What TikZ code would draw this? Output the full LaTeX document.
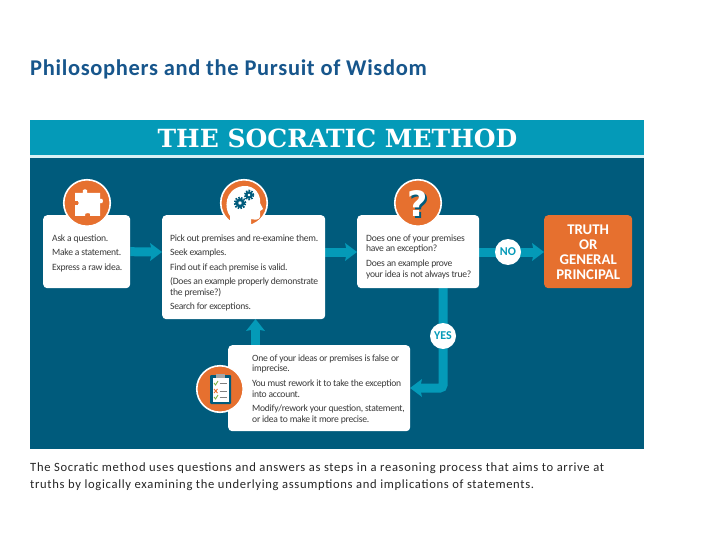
\documentclass[tikz,border=0pt]{standalone}
\usepackage{fontspec}
\setmainfont{Carlito}
\newfontfamily\slabfont{DejaVu Serif}
\newfontfamily\symfont{DejaVu Sans}
\usetikzlibrary{arrows.meta,calc}
\pgfdeclarelayer{backlayer}
\pgfdeclarelayer{flowlayer}
\pgfsetlayers{backlayer,flowlayer,main}
\definecolor{panelc}{HTML}{005B7C}
\definecolor{bandc}{HTML}{049AB8}
\definecolor{orangec}{HTML}{E6702F}
\definecolor{titlec}{HTML}{17568C}
\definecolor{textc}{HTML}{3A3A3A}
\definecolor{greenc}{HTML}{7CB342}
\tikzset{
  x=1pt,y=-1pt,
  card/.style={fill=white,rounded corners=4pt,inner sep=0pt,anchor=north west},
  cardtext/.style={anchor=north west,inner sep=0pt,text=textc,font=\fontsize{9.6}{10.6}\selectfont\addfontfeature{LetterSpace=-2.8},align=left},
  badge/.style={circle,fill=orangec,draw=white,line width=1.6pt,minimum size=46.5pt,inner sep=0pt},
  decision/.style={circle,fill=white,minimum size=26pt,inner sep=0pt,text=bandc,font=\bfseries\fontsize{12}{13}\selectfont},
  flowline/.style={draw=bandc,line width=9pt},
  flowhead/.style={fill=bandc,draw=none},
  gear/.style={draw=panelc,line width=2pt,dash pattern=on 1.6pt off 1.2pt},
}
\begin{document}
\begin{tikzpicture}
\useasboundingbox (0,0) rectangle (720,540);
\begin{pgfonlayer}{backlayer}
\fill[white] (0,0) rectangle (720,540);
\fill[panelc] (30,120) rectangle (644,449);
\fill[bandc] (30,120) rectangle (644,155);
\fill[white!85!bandc] (30,155) rectangle (644,158);
\end{pgfonlayer}
\node[anchor=west,inner sep=0pt,text=titlec,font=\bfseries\fontsize{22.5}{25}\selectfont\addfontfeature{LetterSpace=3}] (title) at (30,69) {Philosophers and the Pursuit of Wisdom};
\node[inner sep=0pt,text=white,font=\slabfont\bfseries\fontsize{25}{27}\selectfont] (head) at (337.5,138.5) {THE SOCRATIC METHOD};
% cards
\node[card,minimum width=87pt,minimum height=73pt] (b1) at (43,215) {};
\node[card,minimum width=163pt,minimum height=104pt] (b2) at (162,215) {};
\node[card,minimum width=122pt,minimum height=73pt] (b3) at (357,215) {};
\node[card,fill=orangec,minimum width=88pt,minimum height=73pt] (b5) at (544,215) {};
\node[card,minimum width=182pt,minimum height=86pt] (b4) at (228,345) {};
\node[inner sep=0pt,align=center,text=white,font=\bfseries\fontsize{14.8}{14.8}\selectfont] (truth) at ($(b5.center)+(0,0.5)$) {TRUTH\\OR\\GENERAL\\PRINCIPAL};
\node[cardtext] (t1) at (52,234.5) {Ask a question.\\[3.9pt]Make a statement.\\[3.9pt]Express a raw idea.};
\node[cardtext] (t2) at (170,234.5) {Pick out premises and re-examine them.\\[3.9pt]Seek examples.\\[3.9pt]Find out if each premise is valid.\\[3.9pt](Does an example properly demonstrate\\the premise?)\\[3.9pt]Search for exceptions.};
\node[cardtext] (t3) at (366,234.5) {Does one of your premises\\have an exception?\\[3.9pt]Does an example prove\\your idea is not always true?};
\node[cardtext] (t4) at (252,354.5) {One of your ideas or premises is false or\\imprecise.\\[3.9pt]You must rework it to take the exception\\into account.\\[3.9pt]Modify/rework your question, statement,\\or idea to make it more precise.};
% decisions
\node[decision] (no) at (508,252) {NO};
\node[decision] (yes) at (443,336) {YES};
\coordinate (b2l) at (162,252);
\coordinate (b2r) at (325,252);
\coordinate (b3l) at (357,252);
\coordinate (b3r) at (479,252);
\coordinate (b3b) at (443,288);
\coordinate (b4t) at (255.5,345);
\coordinate (b2b) at (255.5,319);
\coordinate (b4r) at (410,388);
\coordinate (elbow) at (443,388);
\coordinate (b5l) at (544,252);
% connectors
\begin{pgfonlayer}{flowlayer}
\draw[flowline] (b1.east) -- ($(b2l)+(-8,0)$);
\fill[flowhead] (b2l) -- ++(-12,-9) -- ++(2,9) -- ++(-2,9) -- cycle;
\draw[flowline] (b2r) -- ($(b3l)+(-8,0)$);
\fill[flowhead] (b3l) -- ++(-12,-9) -- ++(2,9) -- ++(-2,9) -- cycle;
\draw[flowline] (b3r) -- (no.center);
\draw[flowline] (no.center) -- ($(b5l)+(-8,0)$);
\fill[flowhead] (b5l) -- ++(-12,-9) -- ++(2,9) -- ++(-2,9) -- cycle;
\draw[flowline,rounded corners=3pt] (b3b) -- (yes.center) -- (elbow) -- ($(b4r)+(8,0)$);
\fill[flowhead] (b4r) -- ++(12,-9) -- ++(-2,9) -- ++(2,9) -- cycle;
\draw[flowline] (b4t) -- ($(b2b)+(0,8)$);
\fill[flowhead] (b2b) -- ++(-9.5,12) -- ++(9.5,-2) -- ++(9.5,2) -- cycle;
\end{pgfonlayer}
% badge 1: puzzle
\node[badge] (c1) at (87,203) {};
\fill[white] (75,193) -- (83,193) .. controls (80,188) and (90,188) .. (87,193) -- (100,193) -- (100,199)
  .. controls (104,196) and (104,206) .. (100,203) -- (100,216) -- (90,216)
  .. controls (93,212) and (83,212) .. (85,216) -- (75,216) -- (75,205)
  .. controls (80,208) and (80,198) .. (75,201) -- cycle;
% badge 2: head with gears
\node[badge] (c2) at (244,203) {};
\fill[white] (230,226) -- (230,216) .. controls (224,209) and (224,189) .. (243,186)
  .. controls (256,185) and (261,196) .. (260,203) -- (263,209) -- (260,211) -- (260,217)
  .. controls (259,220) and (255,220) .. (251,219) -- (251,226) -- cycle;
\draw[panelc,line width=2.6pt] (240,203) circle (3.2pt);
\draw[gear] (240,203) circle (5.4pt);
\draw[panelc,line width=2.2pt] (249,195) circle (2.6pt);
\draw[gear,line width=1.8pt] (249,195) circle (4.4pt);
% badge 3: question
\node[badge] (c3) at (418,203) {};
\node[inner sep=0pt,text=panelc,font=\symfont\bfseries\fontsize{35}{36}\selectfont] (q0) at (419.2,205.2) {?};
\node[inner sep=0pt,text=white,font=\symfont\bfseries\fontsize{35}{36}\selectfont] (q1) at (418,204) {?};
% badge 4: clipboard
\node[badge] (c4) at (220,389) {};
\fill[panelc,rounded corners=1pt] (210,375) rectangle (231,404);
\fill[white] (212.5,378) rectangle (228.5,401.5);
\fill[gray!70] (216,373.5) rectangle (225,378);
\draw[greenc,line width=.9pt] (214,383) -- (215.5,385) -- (218,381);
\draw[orangec,line width=.9pt] (214,389) -- (217.5,393) (217.5,389) -- (214,393);
\draw[greenc,line width=.9pt] (214,397) -- (215.5,399) -- (218,395);
\draw[gray,line width=.5pt] (219.5,383.5) -- (227,383.5) (219.5,391) -- (227,391) (219.5,397.5) -- (227,397.5);
% caption
\node[anchor=north west,inner sep=0pt,align=left,text=black!85,font=\fontsize{12.6}{17}\selectfont\addfontfeature{LetterSpace=5.4}] (cap) at (30,463) {The Socratic method uses questions and answers as steps in a reasoning process that aims to arrive at\\truths by logically examining the underlying assumptions and implications of statements.};
\end{tikzpicture}
\end{document}
